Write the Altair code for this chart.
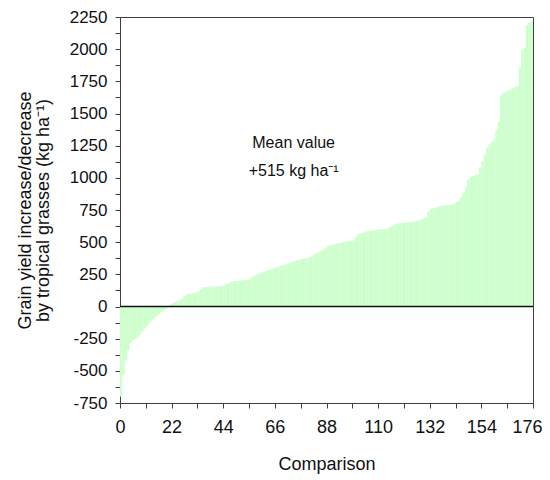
import altair as alt
import pandas as pd

values = [
    -700, -530, -420, -340, -285, -262, -255, -242, -220, -195,
    -172, -152, -132, -112, -95, -78, -60, -45, -30, -18, -6,
    15, 25, 35, 42, 48, 62, 80, 95, 100,
    102, 105, 110, 118, 135, 148, 150, 152, 153, 154,
    155, 156, 157, 160, 168, 175, 182, 190, 195, 198,
    200, 202, 204, 206, 208, 215, 228, 242, 250, 258,
    265, 270, 276, 282, 290, 297, 303, 310, 316, 320,
    325, 332, 340, 348, 355, 360, 364, 368, 372, 376,
    380, 388, 398, 410, 420, 430, 440, 455, 470, 476,
    480, 484, 488, 492, 498, 502, 505, 508, 510, 512,
    540, 563, 568, 574, 580, 585, 588, 591, 594, 596,
    598, 600, 602, 605, 612, 620, 627, 640, 645, 648,
    650, 652, 653, 655, 658, 661, 664, 668, 675, 685,
    695, 740, 758, 765, 770, 775, 780, 783, 785, 787,
    789, 792, 800, 812, 822, 850, 885, 930, 990, 1008,
    1015, 1020, 1026, 1080, 1130, 1180, 1232, 1260, 1280, 1300,
    1370, 1440, 1645, 1660, 1670, 1680, 1688, 1695, 1705, 1712,
    1860, 2000, 2010, 2190, 2205, 2220,
]
comparison = list(range(1, len(values) + 1))
y_major = list(range(-750, 2251, 250))
y_minor = list(range(-625, 2250, 250))
x_major = list(range(0, 177, 22))
x_minor = list(range(11, 177, 22))
note_lines = ["Mean value", "+515 kg ha\u207b\u00b9"]
note_x = [74, 74]
note_y = [1270, 1052]

FONT = "Liberation Sans"

df = pd.DataFrame({"comparison": comparison, "value": values})
notes = pd.DataFrame({"text": note_lines, "x": note_x, "y": note_y})

xscale = alt.Scale(domain=[0, 176], nice=False, zero=False)
yscale = alt.Scale(domain=[-750, 2250], nice=False)

bars = alt.Chart(df).mark_rect(color="#ccffcc", strokeWidth=0).transform_calculate(
    x0="datum.comparison - 1", base="0"
).encode(
    x=alt.X(
        "x0:Q",
        scale=xscale,
        title="Comparison",
        axis=alt.Axis(
            orient="bottom",
            values=x_major,
            labelExpr="'' + datum.value",
            labelOffset={"condition": {"test": "datum.value == 176", "value": -6}, "value": 0},
            tickSize=5,
            labelPadding=10,
            titlePadding=19,
            labelFontSize=18,
            titleFontSize=18,
            grid=False,
            labelFlush=False,
            labelOverlap=False,
            labelBound=False,
        ),
    ),
    x2="comparison:Q",
    y=alt.Y(
        "value:Q",
        scale=yscale,
        title=["Grain yield increase/decrease", "by  tropical grasses  (kg ha\u207b\u00b9)"],
        axis=alt.Axis(
            orient="left",
            values=y_major,
            labelExpr="'' + datum.value",
            tickSize=5,
            labelPadding=8,
            titlePadding=17,
            labelFontSize=17,
            titleFontSize=18,
            titleLineHeight=18,
            grid=False,
            labelFlush=False,
            labelOverlap=False,
            labelBound=False,
        ),
    ),
    y2="base:Q",
)

zero = alt.Chart(pd.DataFrame({"y": [0]})).mark_rule(color="#111111", strokeWidth=1.3).encode(
    y=alt.Y(
        "y:Q",
        scale=yscale,
        title=None,
        axis=alt.Axis(
            orient="left", values=y_minor, labels=False, domain=False,
            tickSize=5, grid=False, title=None,
        ),
    )
)

text = alt.Chart(notes).mark_text(font=FONT, fontSize=16, color="#111111").encode(
    x=alt.X(
        "x:Q",
        scale=xscale,
        title=None,
        axis=alt.Axis(
            orient="bottom", values=x_minor, labels=False, domain=False,
            tickSize=5, grid=False, title=None,
        ),
    ),
    y=alt.Y("y:Q", scale=yscale, axis=None),
    text="text:N",
)

chart = (
    alt.layer(bars, zero, text)
    .resolve_axis(x="independent", y="independent")
    .properties(
        width=413,
        height=386,
        autosize=alt.AutoSizeParams(type="none"),
        padding={"left": 112, "top": 9, "right": 9, "bottom": 75},
    )
    .configure_view(stroke="#404040", strokeWidth=1)
    .configure_axis(
        domainColor="#404040",
        tickColor="#404040",
        labelColor="#111111",
        titleColor="#111111",
        labelFont=FONT,
        titleFont=FONT,
        titleFontWeight="normal",
    )
)

chart.save("out.html", embed_options={"renderer": "svg", "actions": False})
